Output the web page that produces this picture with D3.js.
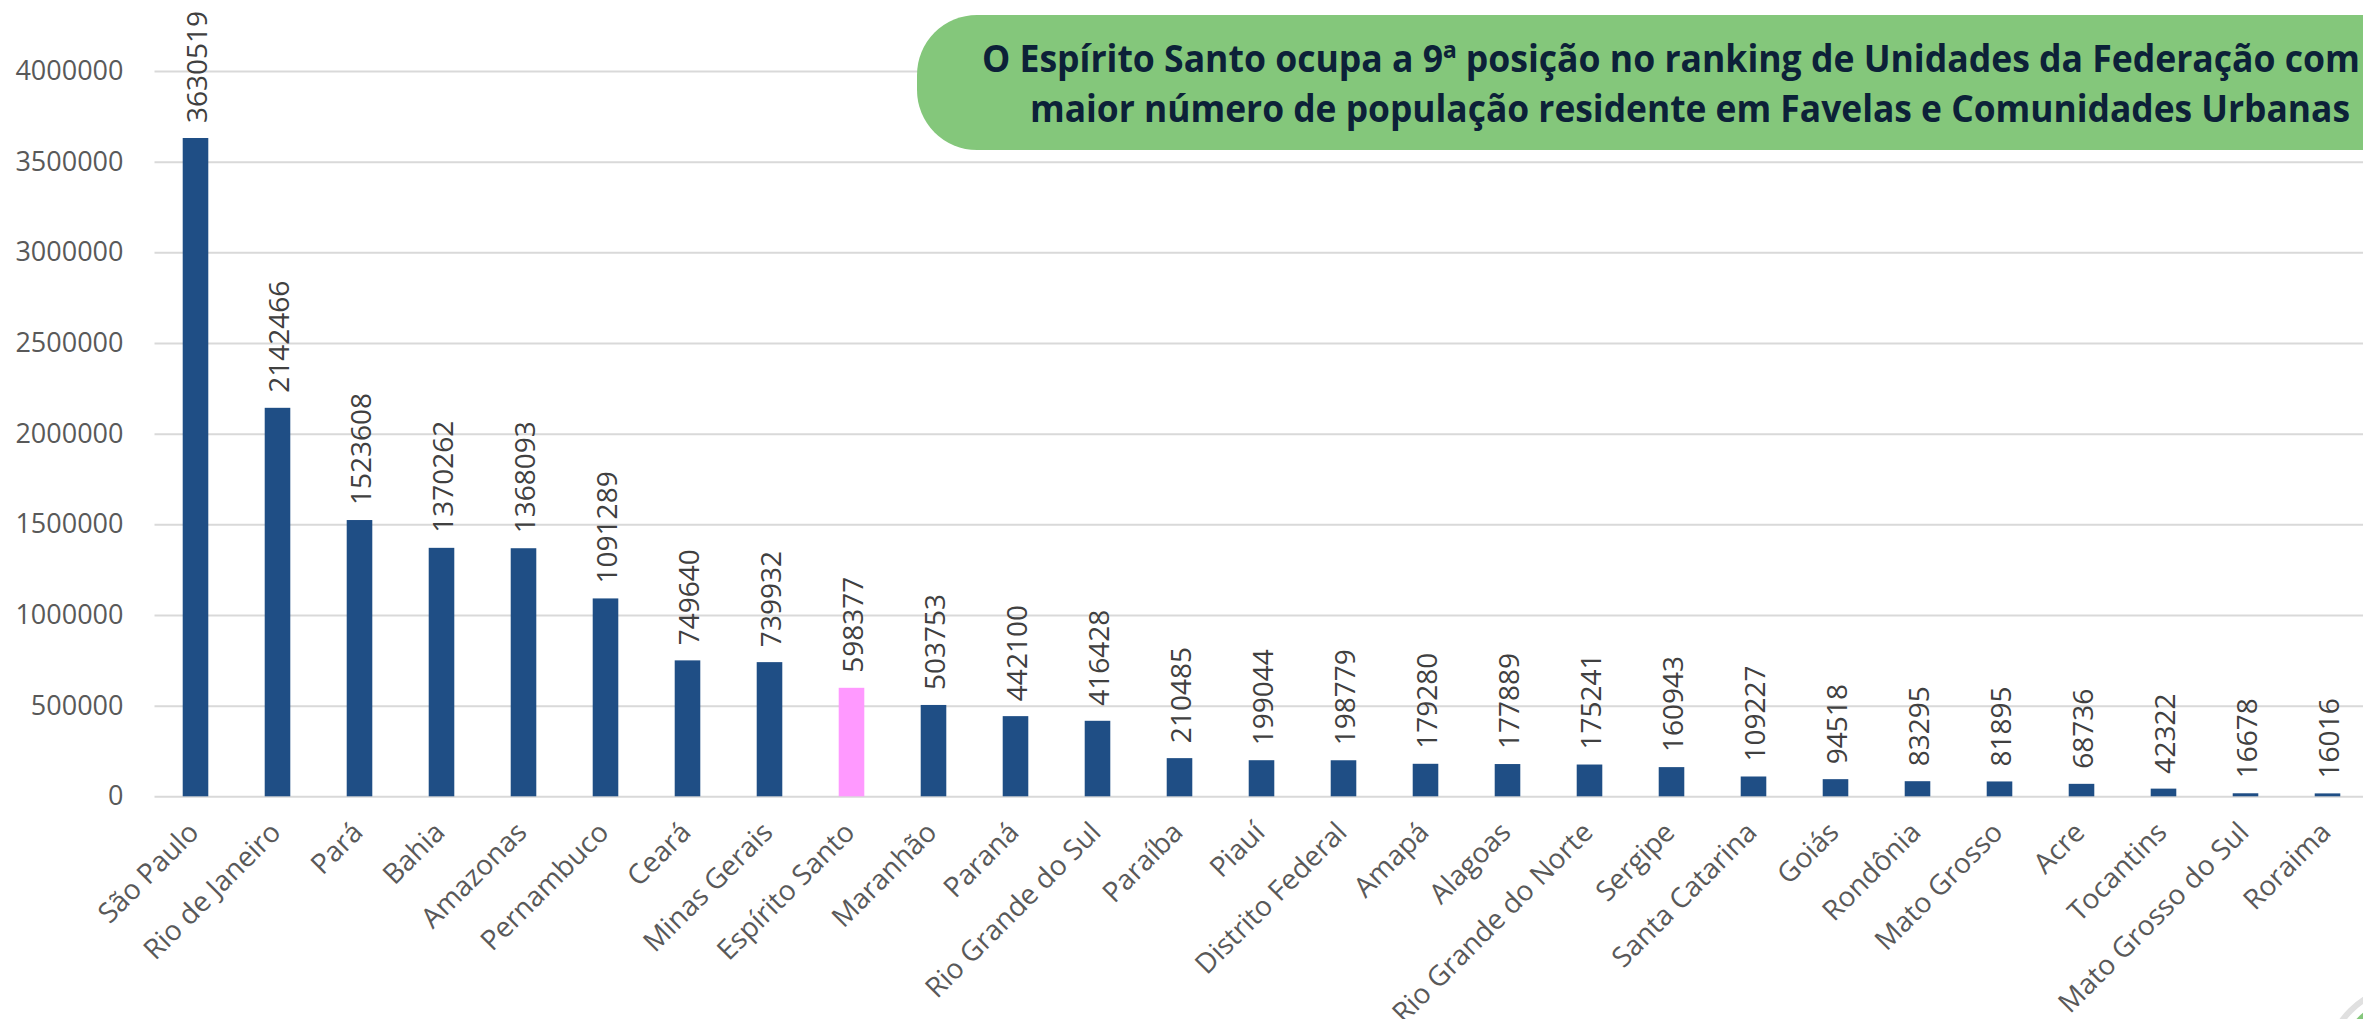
<!DOCTYPE html>
<html>
<head>
<meta charset="utf-8">
<script src="https://cdn.jsdelivr.net/npm/d3@7"></script>
<style>
  html, body { margin: 0; padding: 0; background: #fff; overflow: hidden; }
  svg { display: block; }
</style>
</head>
<body>
<div id="chart"></div>
<script>
// population living in favelas, by state
const states = ["São Paulo", "Rio de Janeiro", "Pará", "Bahia", "Amazonas", "Pernambuco", "Ceará",
  "Minas Gerais", "Espírito Santo", "Maranhão", "Paraná", "Rio Grande do Sul", "Paraíba", "Piauí",
  "Distrito Federal", "Amapá", "Alagoas", "Rio Grande do Norte", "Sergipe", "Santa Catarina", "Goiás",
  "Rondônia", "Mato Grosso", "Acre", "Tocantins", "Mato Grosso do Sul", "Roraima"];
const values = [3630519, 2142466, 1523608, 1370262, 1368093, 1091289, 749640, 739932, 598377, 503753,
  442100, 416428, 210485, 199044, 198779, 179280, 177889, 175241, 160943, 109227, 94518, 83295,
  81895, 68736, 42322, 16678, 16016];
const yTicks = [0, 500000, 1000000, 1500000, 2000000, 2500000, 3000000, 3500000, 4000000];
const highlight = "Espírito Santo";
const titleLines = [
  "O Espírito Santo ocupa a 9ª posição no ranking de Unidades da Federação com",
  "maior número de população residente em Favelas e Comunidades Urbanas"
];

const width = 2363, height = 1019;
const plot = {left: 154.5, right: 2368.5, top: 71, bottom: 796.3};

const data = states.map((s, i) => ({state: s, value: values[i]}));

const svg = d3.select("#chart").append("svg")
  .attr("width", width)
  .attr("height", height)
  .attr("viewBox", [0, 0, width, height]);

const x = d3.scaleBand()
  .domain(states)
  .range([plot.left, plot.right])
  .paddingInner(0.688)
  .paddingOuter(0.344);

const y = d3.scaleLinear()
  .domain([0, 4000000])
  .range([plot.bottom, plot.top]);

// gridlines + y labels
const yAxis = svg.append("g")
  .attr("transform", `translate(${plot.left},0)`)
  .call(d3.axisLeft(y).tickValues(yTicks).tickSize(-(width - plot.left)).tickPadding(31).tickFormat(d3.format("d")))
  .call(g => g.select(".domain").remove());
yAxis.selectAll(".tick line").attr("stroke", "#d9d9d9").attr("stroke-width", 2);
yAxis.selectAll(".tick text")
  .attr("fill", "#595959")
  .style("font-family", "'Open Sans', sans-serif")
  .style("font-size", "27px");

// bars
svg.append("g")
  .selectAll("rect")
  .data(data)
  .join("rect")
    .attr("x", d => x(d.state))
    .attr("y", d => y(d.value))
    .attr("width", x.bandwidth())
    .attr("height", d => y(0) - y(d.value))
    .attr("fill", d => d.state === highlight ? "#ff99ff" : "#1f4e85");

// value labels, rotated
svg.append("g")
  .selectAll("text")
  .data(data)
  .join("text")
    .attr("transform", d => `translate(${x(d.state) + x.bandwidth() / 2 + 1},${y(d.value) - 15}) rotate(-90)`)
    .attr("dy", "0.36em")
    .attr("text-anchor", "start")
    .attr("fill", "#404040")
    .style("font-family", "'Open Sans', sans-serif")
    .style("font-size", "28px")
    .text(d => d.value);

// category labels at 45deg
svg.append("g")
  .selectAll("text")
  .data(data)
  .join("text")
    .attr("transform", d => `translate(${x(d.state) + x.bandwidth() / 2 + 5},834) rotate(-45)`)
    .attr("text-anchor", "end")
    .attr("fill", "#595959")
    .style("font-family", "'Open Sans', sans-serif")
    .style("font-size", "28px")
    .text(d => d.state);

// title box
const title = svg.append("g");
title.append("rect")
  .attr("x", 917).attr("y", 15)
  .attr("width", 1554).attr("height", 135)
  .attr("rx", 60).attr("ry", 60)
  .attr("fill", "#84c77b");
const titleX = [982, 1030];
const titleLen = [1378, 1320];
title.selectAll("text")
  .data(titleLines)
  .join("text")
    .attr("x", (d, i) => titleX[i])
    .attr("y", (d, i) => 72 + i * 50)
    .attr("text-anchor", "start")
    .attr("textLength", (d, i) => titleLen[i])
    .attr("lengthAdjust", "spacingAndGlyphs")
    .attr("fill", "#0c2138")
    .style("font-family", "'Open Sans', sans-serif")
    .style("font-weight", "bold")
    .style("font-size", "37px")
    .text(d => d);

// partial logo in corner
svg.append("circle").attr("cx", 2410).attr("cy", 1070).attr("r", 84)
  .attr("fill", "#fff").attr("stroke", "#e0e0e0").attr("stroke-width", 6);
svg.append("circle").attr("cx", 2410).attr("cy", 1070).attr("r", 74)
  .attr("fill", "#84c77b");
</script>
</body>
</html>
